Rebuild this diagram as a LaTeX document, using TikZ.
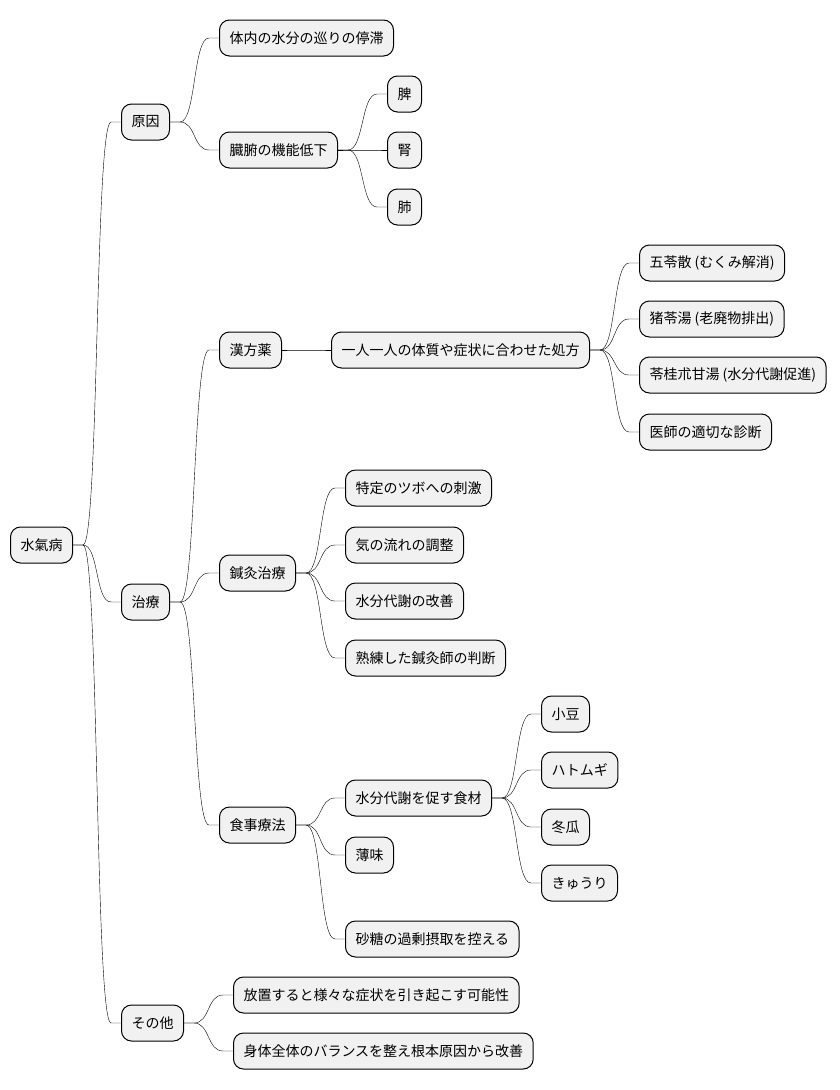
\documentclass[tikz,border=0pt]{standalone}
\usepackage{fontspec}
\setmainfont{Noto Sans CJK JP}
\usetikzlibrary{calc}
\definecolor{boxgray}{HTML}{F1F1F1}

\begin{document}
\begin{tikzpicture}[x=1pt, y=-1pt,
  box/.style={draw, line width=1pt, rounded corners=10pt, fill=boxgray, anchor=west,
              minimum height=36pt, inner xsep=10pt, font=\fontsize{14}{16}\selectfont},
  lnk/.style={line width=0.8pt, to path={-- ++(10,0) .. controls +(16,0) and +(-16,0)
              .. ($(\tikztotarget)+(-10,0)$) -- (\tikztotarget)}}]
  \useasboundingbox (0,0) rectangle (840,1090);
  % root and first level
  \node[box] (root) at (10,545) {水氣病};
  \node[box] (cause) at (121,122) {原因};
  \node[box] (treat) at (121,602) {治療};
  \node[box] (other) at (121,1023) {その他};
  % causes
  \node[box] (stag) at (219,38) {体内の水分の巡りの停滞};
  \node[box] (organ) at (219,150) {臓腑の機能低下};
  \node[box] (spleen) at (387,94) {脾};
  \node[box] (kidney) at (387,150) {腎};
  \node[box] (lung) at (387,207) {肺};
  % kampo
  \node[box] (kampo) at (219,350) {漢方薬};
  \node[box] (rx) at (331,350) {一人一人の体質や症状に合わせた処方};
  \node[box] (gorei) at (639,263) {五苓散 (むくみ解消)};
  \node[box] (chorei) at (639,319) {猪苓湯 (老廃物排出)};
  \node[box] (ryokei) at (639,375) {苓桂朮甘湯 (水分代謝促進)};
  \node[box] (diag) at (639,432) {医師の適切な診断};
  % acupuncture
  \node[box] (acu) at (219,573) {鍼灸治療};
  \node[box] (tsubo) at (345,488) {特定のツボへの刺激};
  \node[box] (qi) at (345,545) {気の流れの調整};
  \node[box] (meta) at (345,601) {水分代謝の改善};
  \node[box] (judge) at (345,658) {熟練した鍼灸師の判断};
  % diet
  \node[box] (diet) at (219,825) {食事療法};
  \node[box] (food) at (345,798) {水分代謝を促す食材};
  \node[box] (azuki) at (541,714) {小豆};
  \node[box] (hatomugi) at (541,770) {ハトムギ};
  \node[box] (togan) at (541,827) {冬瓜};
  \node[box] (kyuri) at (541,883) {きゅうり};
  \node[box] (light) at (345,855) {薄味};
  \node[box] (sugar) at (345,939) {砂糖の過剰摂取を控える};
  % others
  \node[box] (neglect) at (233,995) {放置すると様々な症状を引き起こす可能性};
  \node[box] (whole) at (233,1051) {身体全体のバランスを整え根本原因から改善};
  % branches
  \foreach \a/\b in {root/cause, root/treat, root/other,
                     cause/stag, cause/organ, organ/spleen, organ/kidney, organ/lung,
                     treat/kampo, treat/acu, treat/diet, kampo/rx,
                     rx/gorei, rx/chorei, rx/ryokei, rx/diag,
                     acu/tsubo, acu/qi, acu/meta, acu/judge,
                     diet/food, diet/light, diet/sugar,
                     food/azuki, food/hatomugi, food/togan, food/kyuri,
                     other/neglect, other/whole}
    \draw (\a.east) to[lnk] (\b.west);
\end{tikzpicture}
\end{document}
